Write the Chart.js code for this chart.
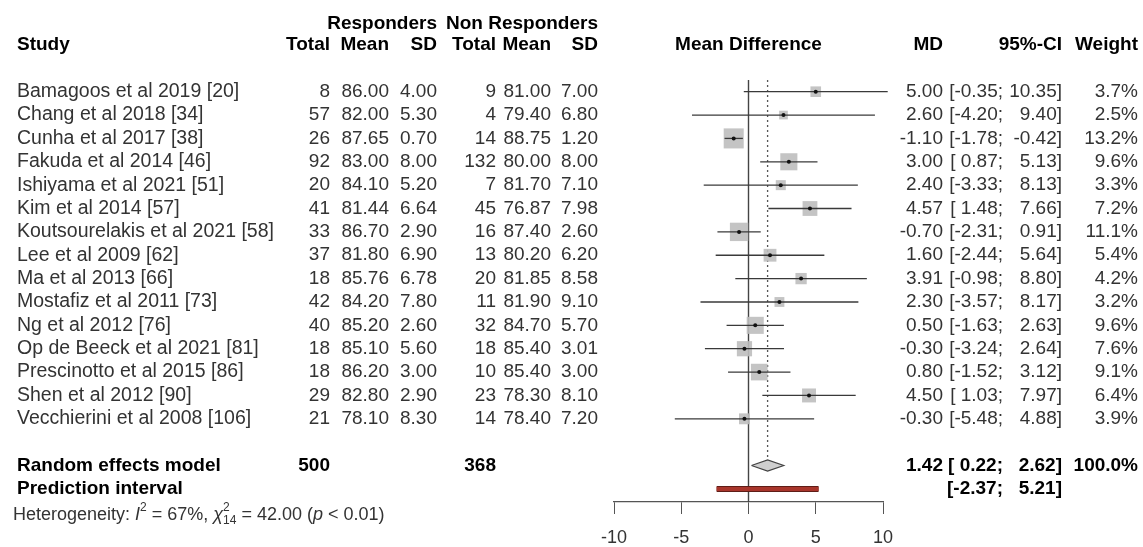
<!DOCTYPE html>
<html>
<head>
<meta charset="utf-8">
<script src="https://cdn.jsdelivr.net/npm/chart.js@4.4.1/dist/chart.umd.min.js"></script>
<style>
  body { margin: 0; background: #fff; }
  canvas { display: block; }
</style>
</head>
<body>
<canvas id="forest" width="1143" height="547"></canvas>
<script>
// datos de la tabla
const estudios = ['Bamagoos et al 2019 [20]', 'Chang et al 2018 [34]', 'Cunha et al 2017 [38]', 'Fakuda et al 2014 [46]',
  'Ishiyama et al 2021 [51]', 'Kim et al 2014 [57]', 'Koutsourelakis et al 2021 [58]', 'Lee et al 2009 [62]',
  'Ma et al 2013 [66]', 'Mostafiz et al 2011 [73]', 'Ng et al 2012 [76]', 'Op de Beeck et al 2021 [81]',
  'Prescinotto et al 2015 [86]', 'Shen et al 2012 [90]', 'Vecchierini et al 2008 [106]'];
const respTotal = [8, 57, 26, 92, 20, 41, 33, 37, 18, 42, 40, 18, 18, 29, 21];
const respMean = [86.00, 82.00, 87.65, 83.00, 84.10, 81.44, 86.70, 81.80, 85.76, 84.20, 85.20, 85.10, 86.20, 82.80, 78.10];
const respSD = [4.00, 5.30, 0.70, 8.00, 5.20, 6.64, 2.90, 6.90, 6.78, 7.80, 2.60, 5.60, 3.00, 2.90, 8.30];
const noTotal = [9, 4, 14, 132, 7, 45, 16, 13, 20, 11, 32, 18, 10, 23, 14];
const noMean = [81.00, 79.40, 88.75, 80.00, 81.70, 76.87, 87.40, 80.20, 81.85, 81.90, 84.70, 85.40, 85.40, 78.30, 78.40];
const noSD = [7.00, 6.80, 1.20, 8.00, 7.10, 7.98, 2.60, 6.20, 8.58, 9.10, 5.70, 3.01, 3.00, 8.10, 7.20];
const md = [5.00, 2.60, -1.10, 3.00, 2.40, 4.57, -0.70, 1.60, 3.91, 2.30, 0.50, -0.30, 0.80, 4.50, -0.30];
const ciBajo = [-0.35, -4.20, -1.78, 0.87, -3.33, 1.48, -2.31, -2.44, -0.98, -3.57, -1.63, -3.24, -1.52, 1.03, -5.48];
const ciAlto = [10.35, 9.40, -0.42, 5.13, 8.13, 7.66, 0.91, 5.64, 8.80, 8.17, 2.63, 2.64, 3.12, 7.97, 4.88];
const peso = [3.7, 2.5, 13.2, 9.6, 3.3, 7.2, 11.1, 5.4, 4.2, 3.2, 9.6, 7.6, 9.1, 6.4, 3.9];

// modelo de efectos aleatorios
const totalResp = 500;
const totalNo = 368;
const mdPool = 1.42;
const ciPool = [0.22, 2.62];
const predInt = [-2.37, 5.21];
const ejeTicks = [-10, -5, 0, 5, 10];

const filaPool = 17;
const filaPred = 18;

const fuente = '"Liberation Sans", Arial, sans-serif';
const gris = '#333';

// columnas de texto (borde derecho)
const col = {
  estudio: 17, rTot: 330, rMean: 389, rSD: 437, nTot: 496, nMean: 551, nSD: 598,
  md: 943, ciLo: 1003, ciHi: 1062, peso: 1138
};

const fmt = (v) => v.toFixed(2);
const fmtLo = (v) => '[' + (v < 0 ? '' : ' ') + fmt(v) + ';';
const fmtHi = (v) => fmt(v) + ']';

const datasets = [];

// linea vertical en cero
datasets.push({
  type: 'line', data: [{ x: 0, y: 0.5 }, { x: 0, y: 18.56 }],
  borderColor: '#444', borderWidth: 1.4, pointRadius: 0, order: 5, clip: false
});
// linea punteada del efecto combinado
datasets.push({
  type: 'line', data: [{ x: mdPool, y: 0.5 }, { x: mdPool, y: filaPool - 0.24 }],
  borderColor: '#555', borderWidth: 1.3, borderDash: [2, 3], pointRadius: 0, order: 5, clip: false
});
// cuadrados segun el peso (el rect de Chart.js mide radio*1.41 de lado)
datasets.push({
  type: 'scatter',
  data: md.map((m, i) => ({ x: m, y: i + 1 })),
  pointStyle: 'rect',
  pointRadius: peso.map(w => 3.9 * Math.sqrt(w)),
  backgroundColor: 'rgba(190,190,190,0.9)',
  borderColor: 'rgba(190,190,190,0.9)',
  borderWidth: 0, order: 4, clip: false
});
// intervalos de confianza
md.forEach((m, i) => {
  datasets.push({
    type: 'line', data: [{ x: ciBajo[i], y: i + 1 }, { x: ciAlto[i], y: i + 1 }],
    borderColor: '#3a3a3a', borderWidth: 1.3, pointRadius: 0, order: 2, clip: false
  });
});
// punto central
datasets.push({
  type: 'scatter',
  data: md.map((m, i) => ({ x: m, y: i + 1 })),
  pointStyle: 'circle', pointRadius: 2,
  backgroundColor: '#111', borderColor: '#111', borderWidth: 0, order: 1, clip: false
});
// diamante
datasets.push({
  type: 'line',
  data: [{ x: ciPool[0], y: filaPool }, { x: mdPool, y: filaPool - 0.24 }, { x: ciPool[1], y: filaPool },
    { x: mdPool, y: filaPool + 0.24 }, { x: ciPool[0], y: filaPool }],
  borderColor: '#444', borderWidth: 1.2, backgroundColor: '#cfcfcf',
  fill: 'shape', pointRadius: 0, tension: 0, order: 3, clip: false
});
// intervalo de prediccion
datasets.push({
  type: 'line', data: [{ x: predInt[0], y: filaPred }, { x: predInt[1], y: filaPred }],
  borderColor: '#5e1d17', borderWidth: 6, borderCapStyle: 'butt', pointRadius: 0, order: 3, clip: false
});
datasets.push({
  type: 'line', data: [{ x: predInt[0], y: filaPred }, { x: predInt[1], y: filaPred }],
  borderColor: '#a8352b', borderWidth: 4, borderCapStyle: 'butt', pointRadius: 0, order: 2, clip: false
});

function texto(ctx, s, x, y, align, bold, size) {
  ctx.font = (bold ? 'bold ' : '') + (size || 19) + 'px ' + fuente;
  ctx.fillStyle = bold ? '#000' : gris;
  ctx.textAlign = align;
  ctx.textBaseline = 'middle';
  ctx.fillText(s, x, y);
}

// dibuja la tabla de texto alrededor del grafico
const tabla = {
  id: 'tabla',
  afterDraw(chart) {
    const ctx = chart.ctx;
    const ys = chart.scales.y;
    ctx.save();
    // encabezados
    texto(ctx, 'Responders', col.rSD, 24, 'right', true);
    texto(ctx, 'Non Responders', col.nSD, 24, 'right', true);
    texto(ctx, 'Study', col.estudio, 45, 'left', true);
    texto(ctx, 'Total', col.rTot, 45, 'right', true);
    texto(ctx, 'Mean', col.rMean, 45, 'right', true);
    texto(ctx, 'SD', col.rSD, 45, 'right', true);
    texto(ctx, 'Total', col.nTot, 45, 'right', true);
    texto(ctx, 'Mean', col.nMean, 45, 'right', true);
    texto(ctx, 'SD', col.nSD, 45, 'right', true);
    texto(ctx, 'Mean Difference', (chart.chartArea.left + chart.chartArea.right) / 2, 45, 'center', true);
    texto(ctx, 'MD', col.md, 45, 'right', true);
    texto(ctx, '95%-CI', col.ciHi, 45, 'right', true);
    texto(ctx, 'Weight', col.peso, 45, 'right', true);

    estudios.forEach((e, i) => {
      const y = ys.getPixelForValue(i + 1);
      texto(ctx, e, col.estudio, y, 'left', false, 19.5);
      texto(ctx, String(respTotal[i]), col.rTot, y, 'right');
      texto(ctx, fmt(respMean[i]), col.rMean, y, 'right');
      texto(ctx, fmt(respSD[i]), col.rSD, y, 'right');
      texto(ctx, String(noTotal[i]), col.nTot, y, 'right');
      texto(ctx, fmt(noMean[i]), col.nMean, y, 'right');
      texto(ctx, fmt(noSD[i]), col.nSD, y, 'right');
      texto(ctx, fmt(md[i]), col.md, y, 'right');
      texto(ctx, fmtLo(ciBajo[i]), col.ciLo, y, 'right');
      texto(ctx, fmtHi(ciAlto[i]), col.ciHi, y, 'right');
      texto(ctx, peso[i].toFixed(1) + '%', col.peso, y, 'right');
    });

    const yp = ys.getPixelForValue(filaPool);
    texto(ctx, 'Random effects model', col.estudio, yp, 'left', true);
    texto(ctx, String(totalResp), col.rTot, yp, 'right', true);
    texto(ctx, String(totalNo), col.nTot, yp, 'right', true);
    texto(ctx, fmt(mdPool), col.md, yp, 'right', true);
    texto(ctx, fmtLo(ciPool[0]), col.ciLo, yp, 'right', true);
    texto(ctx, fmtHi(ciPool[1]), col.ciHi, yp, 'right', true);
    texto(ctx, '100.0%', col.peso, yp, 'right', true);

    const yq = ys.getPixelForValue(filaPred);
    texto(ctx, 'Prediction interval', col.estudio, yq, 'left', true);
    texto(ctx, fmtLo(predInt[0]), col.ciLo, yq, 'right', true);
    texto(ctx, fmtHi(predInt[1]), col.ciHi, yq, 'right', true);

    // heterogeneidad, con partes en cursiva y sub/superindices
    const partes = [
      ['Heterogeneity: ', '', 18, 0], ['I', 'italic ', 18, 0], ['2', '', 12, -7],
      [' = 67%, ', '', 18, 0], ['\u03c7', 'italic ', 18, 0], ['2', '', 12, -7],
    ];
    let x = 13;
    const yh = 515;
    ctx.fillStyle = gris;
    ctx.textAlign = 'left';
    ctx.textBaseline = 'middle';
    partes.forEach(p => {
      ctx.font = p[1] + p[2] + 'px ' + fuente;
      ctx.fillText(p[0], x, yh + p[3]);
      if (p !== partes[partes.length - 1]) x += ctx.measureText(p[0]).width;
    });
    ctx.font = '12px ' + fuente;
    ctx.fillText('14', x, yh + 6);
    x += ctx.measureText('14').width;
    const resto = [[' = 42.00 (', ''], ['p', 'italic '], [' < 0.01)', '']];
    resto.forEach(p => {
      ctx.font = p[1] + '18px ' + fuente;
      ctx.fillText(p[0], x, yh);
      x += ctx.measureText(p[0]).width;
    });
    ctx.restore();
  }
};

new Chart(document.getElementById('forest'), {
  data: { datasets: datasets },
  options: {
    responsive: false,
    animation: false,
    devicePixelRatio: 1,
    layout: { padding: { left: 614, right: 260, top: 80, bottom: 0 } },
    plugins: { legend: { display: false }, tooltip: { enabled: false } },
    scales: {
      x: {
        type: 'linear', min: -10, max: 10,
        afterBuildTicks: (s) => { s.ticks = ejeTicks.map(v => ({ value: v })); },
        afterFit: (s) => { s.height = 45; },
        grid: { drawOnChartArea: false, drawTicks: true, tickLength: 12, tickColor: '#555' },
        border: { color: '#555', width: 1.3 },
        ticks: { padding: 13, color: '#333', font: { family: fuente, size: 18 } }
      },
      y: { type: 'linear', reverse: true, min: 0.5, max: 18.56, display: false }
    }
  },
  plugins: [tabla]
});
</script>
</body>
</html>
